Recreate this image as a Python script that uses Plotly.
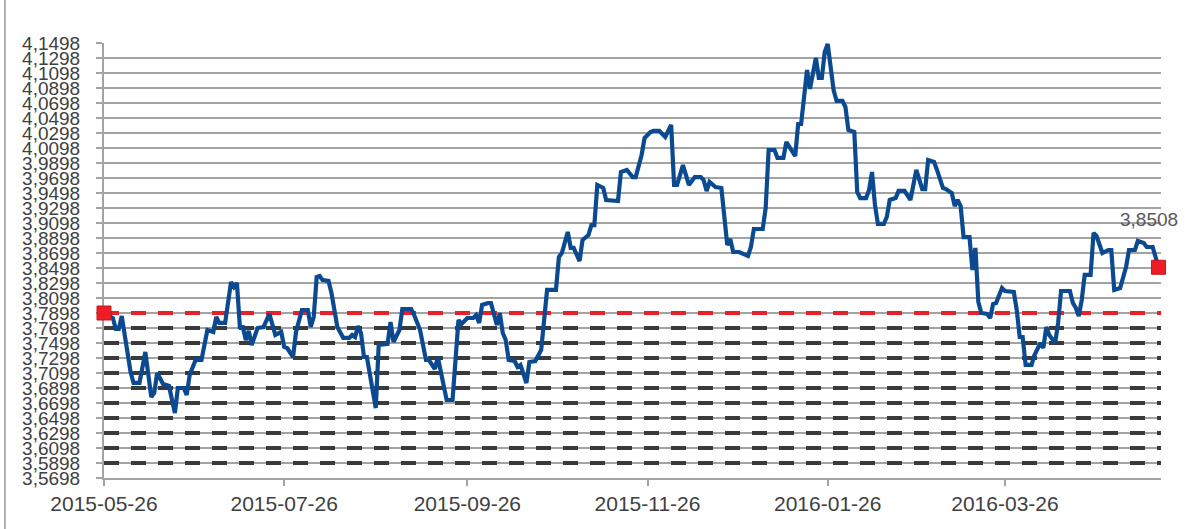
import plotly.graph_objects as go

# ---- data ----
dates = [
    "2015-05-26", "2015-05-29", "2015-05-30", "2015-05-31", "2015-06-01", "2015-06-04", "2015-06-05",
    "2015-06-07", "2015-06-09", "2015-06-11", "2015-06-12", "2015-06-13", "2015-06-15", "2015-06-17",
    "2015-06-19", "2015-06-20", "2015-06-22", "2015-06-23", "2015-06-24", "2015-06-26", "2015-06-28",
    "2015-06-30", "2015-07-02", "2015-07-03", "2015-07-04", "2015-07-06", "2015-07-08", "2015-07-09",
    "2015-07-10", "2015-07-11", "2015-07-12", "2015-07-13", "2015-07-14", "2015-07-15", "2015-07-17",
    "2015-07-19", "2015-07-21", "2015-07-23", "2015-07-25", "2015-07-26", "2015-07-27", "2015-07-29",
    "2015-07-30", "2015-08-01", "2015-08-03", "2015-08-04", "2015-08-05", "2015-08-06", "2015-08-07",
    "2015-08-08", "2015-08-10", "2015-08-11", "2015-08-13", "2015-08-15", "2015-08-17", "2015-08-18",
    "2015-08-19", "2015-08-20", "2015-08-21", "2015-08-22", "2015-08-23", "2015-08-26", "2015-08-27",
    "2015-08-30", "2015-08-31", "2015-09-01", "2015-09-03", "2015-09-04", "2015-09-07", "2015-09-08",
    "2015-09-10", "2015-09-12", "2015-09-13", "2015-09-15", "2015-09-16", "2015-09-19", "2015-09-21",
    "2015-09-22", "2015-09-23", "2015-09-24", "2015-09-26", "2015-09-28", "2015-09-29", "2015-09-30",
    "2015-10-01", "2015-10-03", "2015-10-04", "2015-10-06", "2015-10-07", "2015-10-08", "2015-10-09",
    "2015-10-10", "2015-10-12", "2015-10-13", "2015-10-14", "2015-10-16", "2015-10-17", "2015-10-19",
    "2015-10-21", "2015-10-22", "2015-10-23", "2015-10-26", "2015-10-27", "2015-10-28", "2015-10-30",
    "2015-10-31", "2015-11-01", "2015-11-03", "2015-11-04", "2015-11-06", "2015-11-07", "2015-11-08",
    "2015-11-09", "2015-11-11", "2015-11-12", "2015-11-16", "2015-11-17", "2015-11-19", "2015-11-21",
    "2015-11-22", "2015-11-24", "2015-11-25", "2015-11-27", "2015-11-28", "2015-11-30", "2015-12-02",
    "2015-12-04", "2015-12-05", "2015-12-06", "2015-12-08", "2015-12-09", "2015-12-10", "2015-12-12",
    "2015-12-14", "2015-12-15", "2015-12-16", "2015-12-17", "2015-12-19", "2015-12-21", "2015-12-22",
    "2015-12-23", "2015-12-24", "2015-12-25", "2015-12-27", "2015-12-30", "2015-12-31", "2016-01-01",
    "2016-01-04", "2016-01-05", "2016-01-06", "2016-01-08", "2016-01-09", "2016-01-11", "2016-01-12",
    "2016-01-15", "2016-01-16", "2016-01-17", "2016-01-19", "2016-01-20", "2016-01-22", "2016-01-23",
    "2016-01-24", "2016-01-25", "2016-01-26", "2016-01-28", "2016-01-29", "2016-01-31", "2016-02-01",
    "2016-02-02", "2016-02-04", "2016-02-05", "2016-02-06", "2016-02-08", "2016-02-09", "2016-02-10",
    "2016-02-11", "2016-02-12", "2016-02-14", "2016-02-15", "2016-02-16", "2016-02-18", "2016-02-19",
    "2016-02-21", "2016-02-23", "2016-02-25", "2016-02-27", "2016-02-28", "2016-02-29", "2016-03-02",
    "2016-03-03", "2016-03-05", "2016-03-06", "2016-03-08", "2016-03-09", "2016-03-10", "2016-03-11",
    "2016-03-12", "2016-03-14", "2016-03-15", "2016-03-16", "2016-03-17", "2016-03-18", "2016-03-20",
    "2016-03-21", "2016-03-22", "2016-03-23", "2016-03-25", "2016-03-26", "2016-03-29", "2016-03-30",
    "2016-03-31", "2016-04-01", "2016-04-02", "2016-04-04", "2016-04-05", "2016-04-07", "2016-04-08",
    "2016-04-09", "2016-04-10", "2016-04-12", "2016-04-13", "2016-04-14", "2016-04-17", "2016-04-18",
    "2016-04-19", "2016-04-20", "2016-04-21", "2016-04-22", "2016-04-24", "2016-04-25", "2016-04-26",
    "2016-04-28", "2016-04-30", "2016-05-01", "2016-05-02", "2016-05-04", "2016-05-06", "2016-05-07",
    "2016-05-09", "2016-05-10", "2016-05-12", "2016-05-13", "2016-05-15", "2016-05-17",
]

rates = [
    3.7898, 3.7831, 3.7685, 3.7685, 3.7858, 3.7111, 3.6965,
    3.6965, 3.7378, 3.6778, 3.6831, 3.7098, 3.6951, 3.6925,
    3.6565, 3.6898, 3.6898, 3.6805, 3.7071, 3.7271, 3.7271,
    3.7671, 3.7645, 3.7845, 3.7765, 3.7765, 3.8311, 3.8245,
    3.8298, 3.7711, 3.7711, 3.7538, 3.7658, 3.7471, 3.7698,
    3.7711, 3.7885, 3.7605, 3.7645, 3.7445, 3.7431, 3.7311,
    3.7645, 3.7938, 3.7938, 3.7711, 3.7845, 3.8378, 3.8391,
    3.8338, 3.8325, 3.8165, 3.7711, 3.7565, 3.7565, 3.7605,
    3.7578, 3.7725, 3.7631, 3.7311, 3.7311, 3.6631, 3.7471,
    3.7485, 3.7778, 3.7511, 3.7671, 3.7951, 3.7951, 3.7871,
    3.7671, 3.7271, 3.7271, 3.7151, 3.7311, 3.6738, 3.6738,
    3.7311, 3.7805, 3.7751, 3.7831, 3.7831, 3.7871, 3.7765,
    3.8005, 3.8031, 3.8031, 3.7738, 3.7898, 3.7631, 3.7538,
    3.7271, 3.7258, 3.7178, 3.7205, 3.6965, 3.7245, 3.7258,
    3.7405, 3.7805, 3.8205, 3.8205, 3.8645, 3.8698, 3.8978,
    3.8765, 3.8765, 3.8591, 3.8871, 3.8938, 3.9071, 3.9071,
    3.9605, 3.9565, 3.9405, 3.9391, 3.9778, 3.9805, 3.9711,
    3.9711, 4.0005, 4.0231, 4.0311, 4.0325, 4.0325, 4.0245,
    4.0405, 3.9605, 3.9605, 3.9871, 3.9738, 3.9605, 3.9711,
    3.9711, 3.9671, 3.9525, 3.9645, 3.9578, 3.9565, 3.9205,
    3.8805, 3.8885, 3.8711, 3.8711, 3.8658, 3.8778, 3.9018,
    3.9018, 3.9298, 4.0071, 4.0071, 3.9965, 3.9965, 4.0178,
    3.9991, 4.0418, 4.0418, 4.1138, 4.0885, 4.1298, 4.1031,
    4.1031, 4.1378, 4.1485, 4.0871, 4.0725, 4.0725, 4.0645,
    4.0338, 4.0311, 3.9511, 3.9431, 3.9431, 3.9538, 3.9778,
    3.9338, 3.9085, 3.9085, 3.9178, 3.9405, 3.9431, 3.9525,
    3.9525, 3.9405, 3.9805, 3.9551, 3.9551, 3.9938, 3.9911,
    3.9805, 3.9565, 3.9551, 3.9498, 3.9325, 3.9405, 3.9325,
    3.8911, 3.8911, 3.8471, 3.8765, 3.8045, 3.7898, 3.7885,
    3.7831, 3.8018, 3.8031, 3.8231, 3.8191, 3.8178, 3.7938,
    3.7578, 3.7578, 3.7205, 3.7205, 3.7338, 3.7498, 3.7431,
    3.7711, 3.7605, 3.7498, 3.7765, 3.8191, 3.8191, 3.8031,
    3.7965, 3.7858, 3.8071, 3.8405, 3.8405, 3.8965, 3.8925,
    3.8698, 3.8738, 3.8738, 3.8205, 3.8231, 3.8511, 3.8738,
    3.8738, 3.8858, 3.8831, 3.8778, 3.8778, 3.8508,
]

start_level = 3.7898
lower_levels = [3.7698, 3.7498, 3.7298, 3.7098, 3.6898, 3.6698, 3.6498, 3.6298, 3.6098, 3.5898]
y_ticks = [round(3.5698 + 0.02 * i, 4) for i in range(30)]
x_ticks = ["2015-05-26", "2015-07-26", "2015-09-26", "2015-11-26", "2016-01-26", "2016-03-26"]
x_range = ["2015-05-26", "2016-05-17 20:00"]
y_range = [3.5698, 4.1498]

FONT = "Liberation Sans, Arial, sans-serif"
TEXT = "#404040"
GRID = "#a3a3a3"
DASH = "15px,12px"

fig = go.Figure()

# threshold levels (dashed), drawn as traces so they sit above the gridlines
for lv in lower_levels:
    fig.add_trace(go.Scatter(
        x=x_range, y=[lv, lv], mode="lines",
        line=dict(color="#3a3a3a", width=4, dash=DASH),
        showlegend=False, hoverinfo="skip",
    ))
fig.add_trace(go.Scatter(
    x=x_range, y=[start_level, start_level], mode="lines",
    line=dict(color="#e8202a", width=4, dash=DASH),
    showlegend=False, hoverinfo="skip",
))

# main series
fig.add_trace(go.Scatter(
    x=dates, y=rates, mode="lines",
    line=dict(color="#0b4a90", width=4.2),
    hoverinfo="x+y", showlegend=False,
))

# start / end markers
fig.add_trace(go.Scatter(
    x=[dates[0], dates[-1]], y=[rates[0], rates[-1]], mode="markers",
    marker=dict(symbol="square", size=14, color="#ee1c25",
                line=dict(color="#c0161e", width=1)),
    showlegend=False, hoverinfo="skip", cliponaxis=False,
))

shapes = [
    # chart-area border (left edge)
    dict(type="line", xref="paper", yref="paper", x0=-0.0937, x1=-0.0937, y0=-0.2, y1=1.12,
         line=dict(color="#b0b0b0", width=2), layer="above"),
]

fig.update_layout(
    width=1187, height=529,
    margin=dict(l=104, r=26, t=43, b=51),
    paper_bgcolor="white", plot_bgcolor="white",
    font=dict(family=FONT, size=19, color=TEXT),
    shapes=shapes,
    showlegend=False,
)

fig.add_annotation(
    x=dates[-1], y=rates[-1], text=f"{rates[-1]:.4f}".replace(".", ","),
    showarrow=False, xshift=-10, yshift=48,
    font=dict(family=FONT, size=19, color="#595959"),
)

fig.update_xaxes(
    type="date", range=x_range,
    tickvals=x_ticks, ticktext=x_ticks,
    showgrid=False, zeroline=False,
    showline=True, linecolor=GRID, linewidth=2,
    ticks="outside", ticklen=6, tickwidth=2, tickcolor=GRID,
    tickfont=dict(family=FONT, size=21, color=TEXT),
    ticklabelstandoff=0, layer="below traces",
)

fig.update_yaxes(
    range=y_range,
    tickvals=y_ticks, ticktext=[f"{v:.4f}".replace(".", ",") for v in y_ticks],
    showgrid=True, gridcolor=GRID, gridwidth=1.5, zeroline=False,
    showline=True, linecolor=GRID, linewidth=2,
    ticks="outside", ticklen=6, tickwidth=2, tickcolor=GRID,
    tickfont=dict(family=FONT, size=19, color=TEXT),
    ticklabelstandoff=12, layer="below traces",
)

fig.write_html("out.html", config={"displayModeBar": False},
               post_script="document.body.style.margin='0px';")
